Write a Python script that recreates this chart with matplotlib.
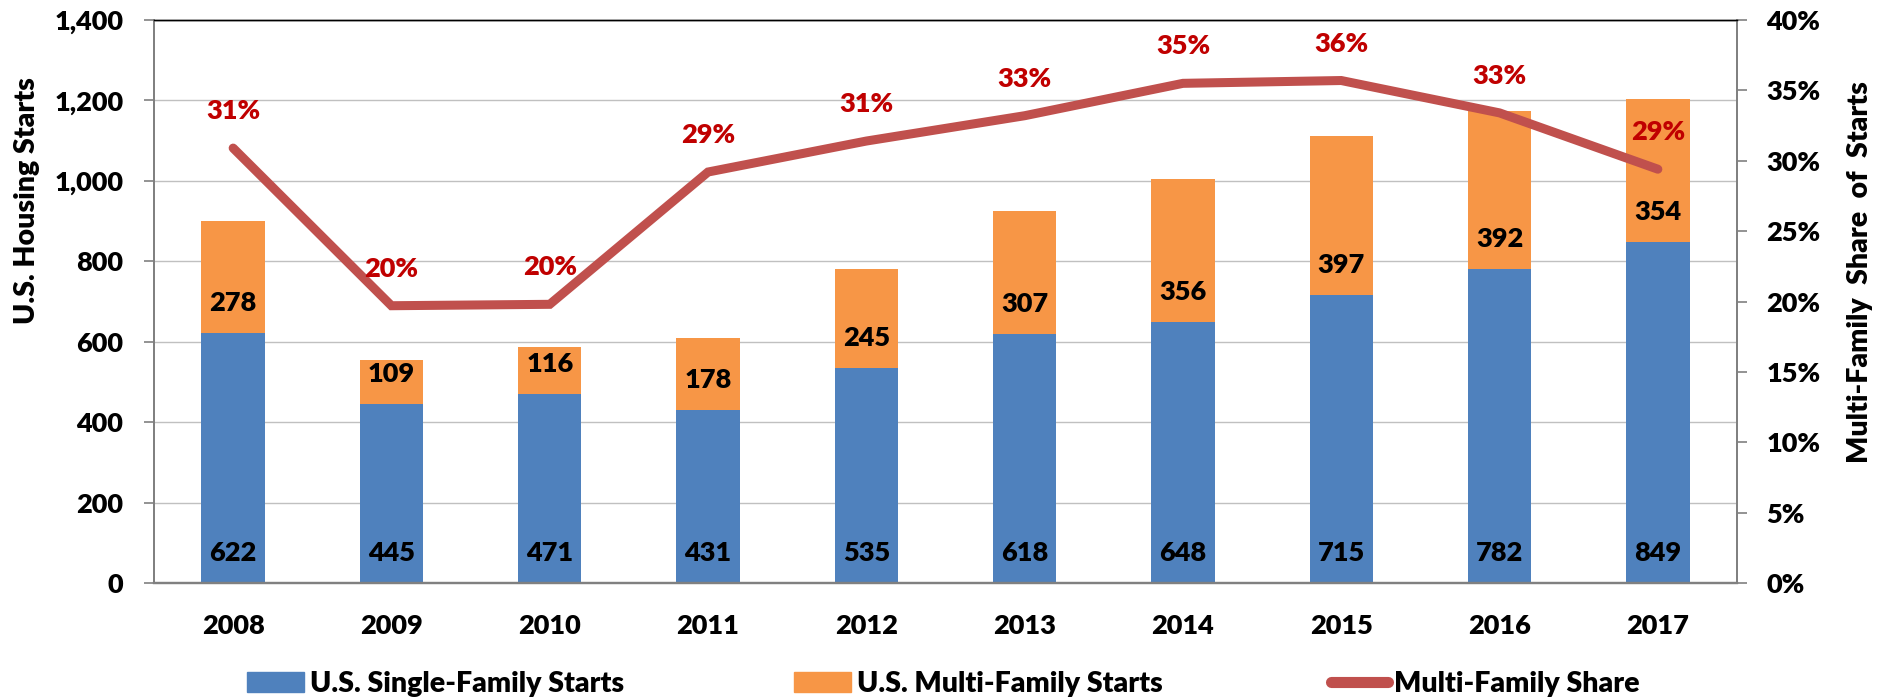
import matplotlib.pyplot as plt
import numpy as np
from matplotlib.ticker import FuncFormatter, MultipleLocator
from matplotlib.patches import Patch
from matplotlib.lines import Line2D

years = ["2008", "2009", "2010", "2011", "2012", "2013", "2014", "2015", "2016", "2017"]
single = [622, 445, 471, 431, 535, 618, 648, 715, 782, 849]
multi = [278, 109, 116, 178, 245, 307, 356, 397, 392, 354]
share = [0.309, 0.197, 0.198, 0.292, 0.314, 0.332, 0.355, 0.357, 0.334, 0.294]
share_lbl = ["31%", "20%", "20%", "29%", "31%", "33%", "35%", "36%", "33%", "29%"]
legend_lbl = ["U.S. Single-Family Starts", "U.S. Multi-Family Starts", "Multi-Family Share"]

blue = "#4F81BD"
orange = "#F79646"
red = "#C0504D"
dark_red = "#C00000"

plt.rcParams['font.family'] = ['Lato', 'DejaVu Sans']
wt = 'heavy'
fs = 19.5

fig = plt.figure(figsize=(18.77, 6.99), dpi=100)
ax = fig.add_axes([154/1877, 1-583/699, (1737-154)/1877, (583-20)/699])
ax2 = ax.twinx()

x = np.arange(len(years))
ax.bar(x, single, width=0.4, color=blue, zorder=2)
ax.bar(x, multi, width=0.4, bottom=single, color=orange, zorder=2)

# Beschriftungen knapp ueber dem Segmentfuss
for i in range(len(years)):
    ax.annotate(str(single[i]), (x[i], 0), xytext=(0, 30), textcoords='offset pixels',
                ha='center', va='center', fontsize=fs, fontweight=wt, color='black', zorder=5)
    ax.annotate(str(multi[i]), (x[i], single[i]), xytext=(0, 30), textcoords='offset pixels',
                ha='center', va='center', fontsize=fs, fontweight=wt, color='black', zorder=5)

ax2.plot(x, share, color=red, lw=6.5, solid_capstyle='round', solid_joinstyle='miter', zorder=3)
for i in range(len(years)):
    ax2.annotate(share_lbl[i], (x[i], share[i]), xytext=(0, 37), textcoords='offset pixels',
                 ha='center', va='center', fontsize=fs, fontweight=wt, color=dark_red)

ax.set_xlim(-0.5, len(years) - 0.5)
ax.set_ylim(0, 1400)
ax.yaxis.set_major_locator(MultipleLocator(200))
ax.yaxis.set_major_formatter(FuncFormatter(lambda v, p: f"{v:,.0f}"))
ax.grid(axis='y', color='#C0C0C0', lw=1.0, zorder=0)
ax.set_axisbelow(True)
ax.set_xticks(x)
ax.set_xticklabels(years)
ax.tick_params(axis='x', length=0, pad=22, labelsize=fs)
ax.tick_params(axis='y', length=7, width=1.2, color='#808080', pad=15, labelsize=fs)

ax2.set_ylim(0, 0.40)
ax2.yaxis.set_major_locator(MultipleLocator(0.05))
ax2.yaxis.set_major_formatter(FuncFormatter(lambda v, p: f"{v*100:.0f}%"))
ax2.tick_params(axis='y', length=7, width=1.2, color='#808080', pad=14, labelsize=fs)

for lab in ax.get_xticklabels() + ax.get_yticklabels() + ax2.get_yticklabels():
    lab.set_fontweight(wt)

for a in (ax, ax2):
    a.spines['left'].set_color('#808080')
    a.spines['left'].set_linewidth(1.3)
    a.spines['right'].set_color('#808080')
    a.spines['right'].set_linewidth(1.3)
    a.spines['bottom'].set_color('#808080')
    a.spines['bottom'].set_linewidth(1.6)
    a.spines['top'].set_color('black')
    a.spines['top'].set_linewidth(1.0)

fig.text(27/1877, 1-201/699, "U.S. Housing Starts", rotation=90, ha='center', va='center',
         fontsize=20.5, fontweight=wt)
fig.text(1860/1877, 1-272/699, "Multi-Family  Share  of  Starts", rotation=90, ha='center', va='center',
         fontsize=20.5, fontweight=wt)

# Legende: drei Eintraege einzeln platziert
handles = [Patch(color=blue), Patch(color=orange),
           Line2D([0], [0], color=red, lw=8, solid_capstyle='round')]
lx = [247, 794, 1331]
for h, lab, xp in zip(handles, legend_lbl, lx):
    fig.legend([h], [lab], loc='center left', bbox_to_anchor=(xp/1877, 1-684/699),
               frameon=False, borderpad=0, borderaxespad=0, handlelength=2.0,
               handletextpad=0.2, prop={'size': 20.5, 'weight': wt})

plt.savefig('out.png', dpi=100)
